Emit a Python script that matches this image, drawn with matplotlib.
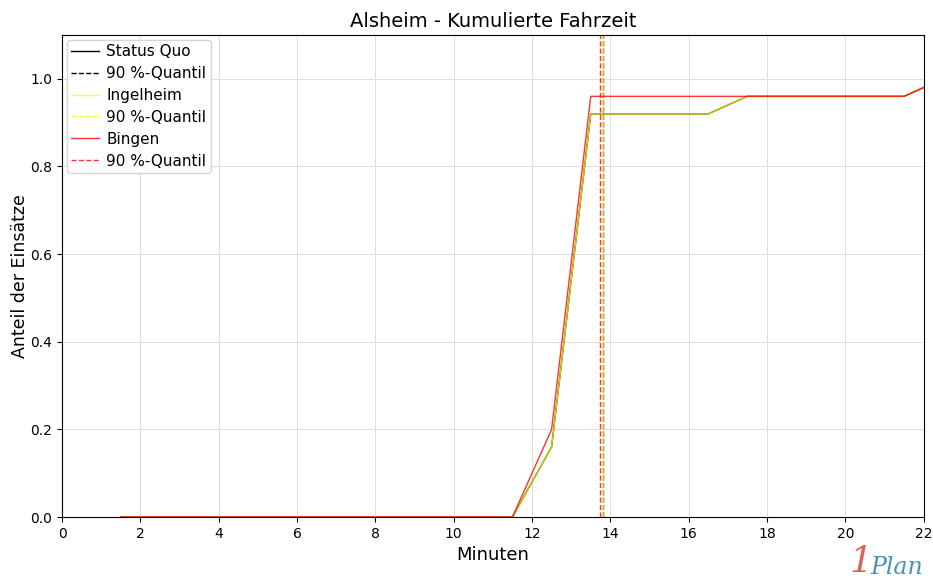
import matplotlib
matplotlib.use("Agg")
import matplotlib.pyplot as plt

minuten = [1.5, 2.5, 3.5, 4.5, 5.5, 6.5, 7.5, 8.5, 9.5, 10.5, 11.5, 12.5, 13.5,
           14.5, 15.5, 16.5, 17.5, 18.5, 19.5, 20.5, 21.5, 22.5]
status_quo = [0, 0, 0, 0, 0, 0, 0, 0, 0, 0, 0, 0.16, 0.92,
              0.92, 0.92, 0.92, 0.96, 0.96, 0.96, 0.96, 0.96, 1.0]
ingelheim = [0, 0, 0, 0, 0, 0, 0, 0, 0, 0, 0, 0.16, 0.92,
             0.92, 0.92, 0.92, 0.96, 0.96, 0.96, 0.96, 0.96, 1.0]
bingen = [0, 0, 0, 0, 0, 0, 0, 0, 0, 0, 0, 0.20, 0.96,
          0.96, 0.96, 0.96, 0.96, 0.96, 0.96, 0.96, 0.96, 1.0]

q90_status_quo = 13.81
q90_ingelheim = 13.81
q90_bingen = 13.74

fig = plt.figure(figsize=(9.33, 5.79), dpi=100)
ax = fig.add_axes([0.0665, 0.107, 0.9235, 0.8326])

ax.plot(minuten, status_quo, color="black", linewidth=1, label="Status Quo")
ax.axvline(q90_status_quo, color="black", linestyle="--", linewidth=1, label="90 %-Quantil")
ax.plot(minuten, ingelheim, color="yellow", linewidth=1, alpha=0.8, label="Ingelheim")
ax.axvline(q90_ingelheim, color="yellow", linestyle="--", linewidth=1, alpha=0.8, label="90 %-Quantil")
ax.plot(minuten, bingen, color="red", linewidth=1, alpha=0.8, label="Bingen")
ax.axvline(q90_bingen, color="red", linestyle="--", linewidth=1, alpha=0.8, label="90 %-Quantil")

ax.set_xlim(0, 22)
ax.set_ylim(0, 1.1)
ax.set_xticks(range(0, 23, 2))
ax.set_yticks([0.0, 0.2, 0.4, 0.6, 0.8, 1.0])
ax.grid(True, color="#dddddd", linewidth=0.7)
ax.set_axisbelow(True)
ax.tick_params(labelsize=10)

ax.set_title("Alsheim - Kumulierte Fahrzeit", fontsize=14)
ax.set_xlabel("Minuten", fontsize=13)
ax.set_ylabel("Anteil der Einsätze", fontsize=12.5, labelpad=1)
ax.legend(loc="upper left", fontsize=11, handlelength=1.8, borderpad=0.3,
          labelspacing=0.45, handletextpad=0.5, borderaxespad=0.3)

# Logo
fig.text(0.911, 0.0, "1", color="#d9645a", fontsize=26, style="italic",
         ha="left", va="bottom", family="DejaVu Serif")
fig.text(0.933, 0.0, "Plan", color="#4a8fb8", fontsize=17, style="italic",
         ha="left", va="bottom", family="DejaVu Serif")

fig.savefig("out.png", dpi=100)
